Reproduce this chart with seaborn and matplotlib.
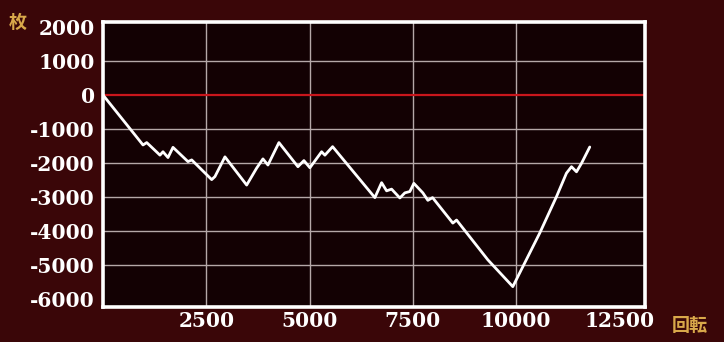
import matplotlib
matplotlib.use("Agg")
import matplotlib.pyplot as plt
import seaborn as sns
import pandas as pd

# Data
games = [0, 968, 1058, 1137, 1379, 1452, 1573, 1694, 2057, 2147, 2347, 2631,
         2710, 2952, 3478, 3720, 3872, 3993, 4259, 4719, 4864, 5009, 5293,
         5372, 5559, 6582, 6745, 6866, 6987, 7187, 7308, 7429, 7526, 7744,
         7865, 7979, 8470, 8560, 9317, 9922, 10575, 10980, 11221, 11343,
         11464, 11585, 11785]
coins = [0, -1470, -1400, -1490, -1770, -1670, -1840, -1540, -1960, -1910,
         -2150, -2490, -2400, -1820, -2650, -2150, -1880, -2060, -1400, -2110,
         -1930, -2140, -1670, -1770, -1520, -3020, -2580, -2820, -2770, -3030,
         -2880, -2840, -2600, -2880, -3100, -3020, -3770, -3680, -4850, -5640,
         -4060, -2990, -2300, -2110, -2260, -2010, -1530]
x_ticks = [2500, 5000, 7500, 10000, 12500]
y_ticks = [2000, 1000, 0, -1000, -2000, -3000, -4000, -5000, -6000]
x_unit = "回転"
y_unit = "枚"

sns.set_style("dark")
plt.rcParams["font.family"] = ["DejaVu Serif", "Noto Sans CJK JP"]

df = pd.DataFrame({"games": games, "coins": coins})

fig = plt.figure(figsize=(7.24, 3.42), dpi=100)
fig.patch.set_facecolor("#3a0608")
ax = fig.add_axes([0.1423, 0.1023, 0.749, 0.8334])
ax.set_facecolor("#130103")

ax.axhline(0, color="#c8161c", lw=1.6, zorder=2)
sns.lineplot(data=df, x="games", y="coins", sort=False, color="white",
             lw=2.0, ax=ax, zorder=3)

ax.set_xlim(0, 13130)
ax.set_ylim(-6240, 2150)
ax.set_xticks(x_ticks)
ax.set_yticks(y_ticks)
ax.set_xticklabels([str(t) for t in x_ticks])
ax.set_yticklabels([str(t) for t in y_ticks])
ax.set_xlabel("")
ax.set_ylabel("")

ax.grid(True, color="#b5a8a8", lw=1.0, zorder=1)
# inner grid lines only
ax.get_xgridlines()[-1].set_visible(False)
ax.get_ygridlines()[0].set_visible(False)
ax.get_ygridlines()[-1].set_visible(False)
ax.get_ygridlines()[2].set_visible(False)

for s in ax.spines.values():
    s.set_visible(True)
    s.set_color("white")
    s.set_linewidth(2.6)

ax.tick_params(axis="both", length=0, colors="white", labelsize=14.5)
ax.tick_params(axis="y", pad=6)
ax.tick_params(axis="x", pad=3)
for lab in ax.get_xticklabels() + ax.get_yticklabels():
    lab.set_fontweight("bold")

fig.text(0.024, 0.935, y_unit, color="#d9a84a", fontsize=13, fontweight="bold",
         family=["Noto Sans CJK JP"], ha="center", va="center")
fig.text(0.953, 0.048, x_unit, color="#d9a84a", fontsize=13, fontweight="bold",
         family=["Noto Sans CJK JP"], ha="center", va="center")

fig.savefig("out.png", dpi=100, facecolor=fig.get_facecolor())
